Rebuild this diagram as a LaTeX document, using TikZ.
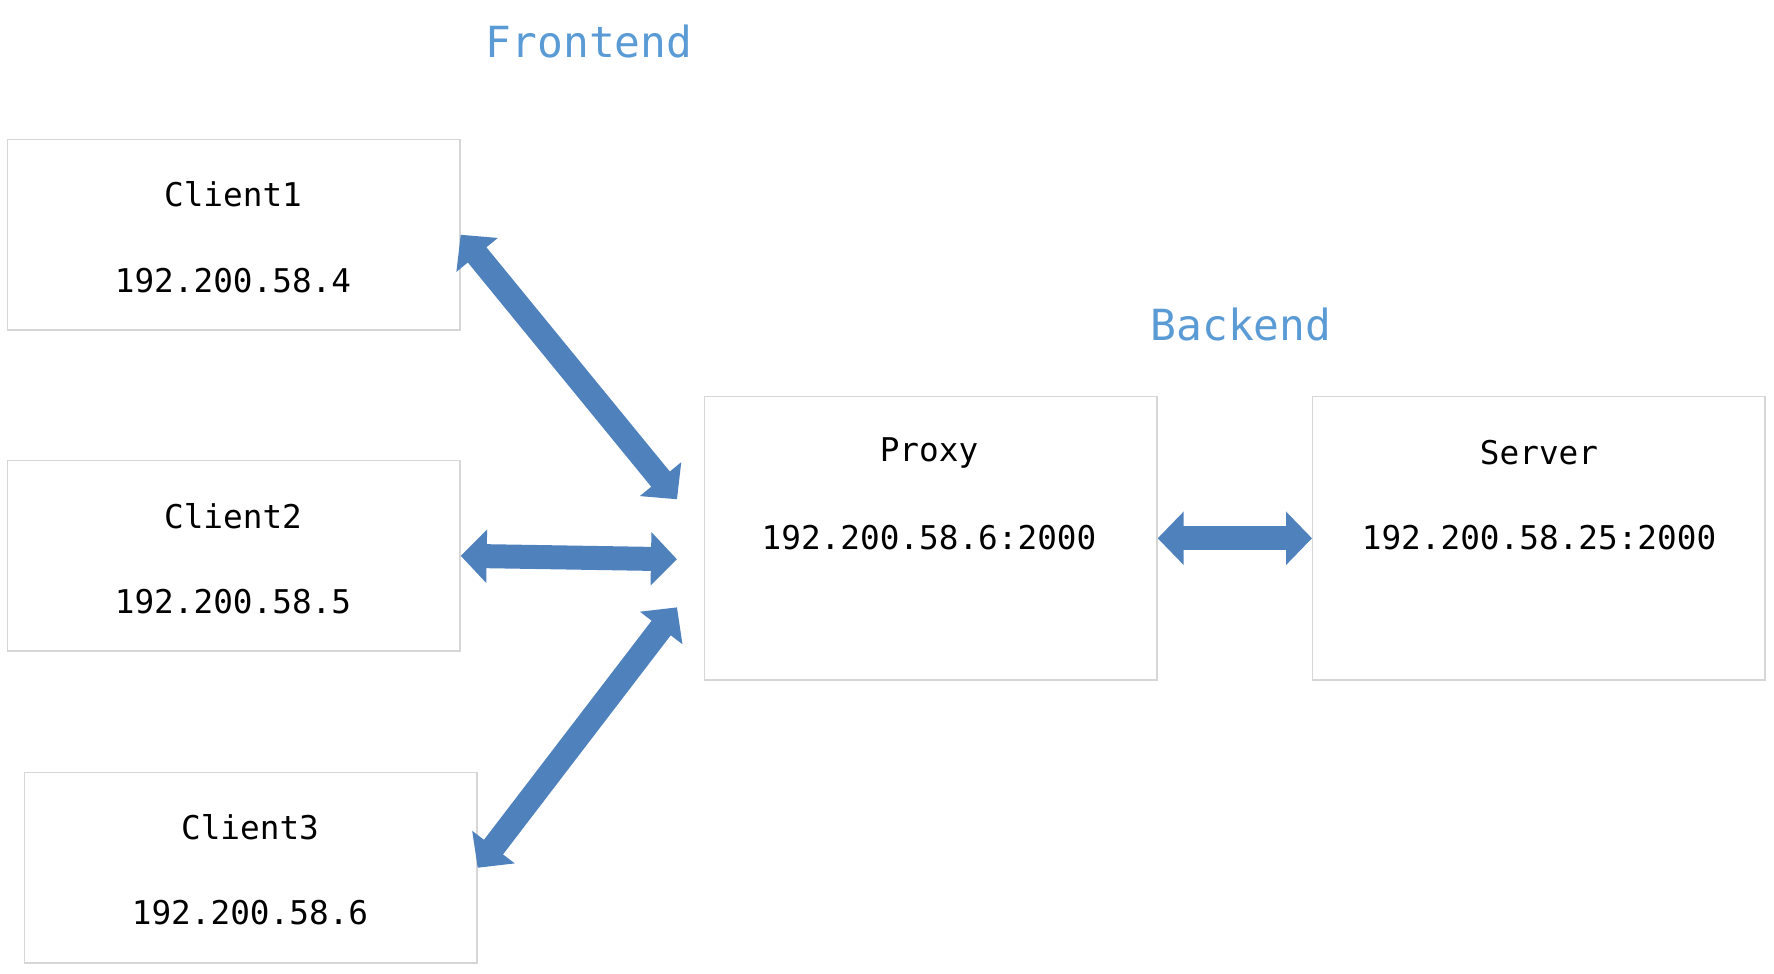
\documentclass[tikz,border=0pt]{standalone}
\usepackage{fontspec}
\setmainfont{DejaVu Sans Mono}
\usepackage{tikz}
\usetikzlibrary{arrows.meta}
\usetikzlibrary{positioning}
\definecolor{linkblue}{HTML}{4F81BD}
\definecolor{titleblue}{HTML}{5B9BD5}
\definecolor{boxgray}{HTML}{D6D6D6}
\tikzset{
    hostbox/.style={
        rectangle, anchor=north west,
        minimum width=4.52cm, minimum height=1.90cm,
        draw=boxgray, thin,
        fill=white,
    },
    hosttext/.style={
        text=black, inner sep=0pt,
        font=\fontsize{9.3}{11}\selectfont,
    },
    tiertext/.style={
        text=titleblue, inner sep=0pt,
        font=\fontsize{12.2}{14}\selectfont,
    },
    link/.style={
        draw=linkblue, line width=0.24cm,
        {Triangle[length=0.26cm, width=0.52cm]}-{Triangle[length=0.26cm, width=0.52cm]},
    },
}
\begin{document}
\begin{tikzpicture}[x=0.01cm, y=-0.01cm]
        \useasboundingbox (0,0) rectangle (1774,973);

        % hosts
        \node (client1) at(7,139) [hostbox] {};
        \node (client2) at(7,460) [hostbox] {};
        \node (client3) at(24,772) [hostbox] {};
        \node (proxy) at(704,396) [hostbox, minimum height=2.83cm] {};
        \node (server) at(1312,396) [hostbox, minimum height=2.83cm] {};

        \node (client1name) at(233,194) [hosttext] {Client1};
        \node (client1ip) at(233,281) [hosttext] {192.200.58.4};
        \node (client2name) at(233,516) [hosttext] {Client2};
        \node (client2ip) at(233,602) [hosttext] {192.200.58.5};
        \node (client3name) at(250,827) [hosttext] {Client3};
        \node (client3ip) at(250,913) [hosttext] {192.200.58.6};
        \node (proxyname) at(929,453) [hosttext] {Proxy};
        \node (proxyip) at(929,538) [hosttext] {192.200.58.6:2000};
        \node (servername) at(1539,453) [hosttext] {Server};
        \node (serverip) at(1539,538) [hosttext] {192.200.58.25:2000};

        \node (frontend) at(589,42) [tiertext] {Frontend};
        \node (backend) at(1241,325) [tiertext] {Backend};

        % links
        \coordinate (in1) at ([xshift=-0.27cm, yshift=0.39cm]proxy.west);
        \coordinate (in2) at ([xshift=-0.27cm, yshift=-0.21cm]proxy.west);
        \coordinate (in3) at ([xshift=-0.27cm, yshift=-0.69cm]proxy.west);

        \draw[link] (client1.east) -- (in1);
        \draw[link] (client2.east) -- (in2);
        \draw[link] (client3.east) -- (in3);
        \draw[link] (proxy.east) -- (server.west);
    \end{tikzpicture}
\end{document}
